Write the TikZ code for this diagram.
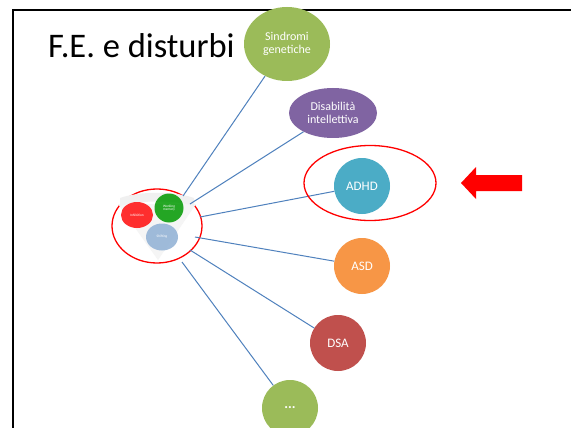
\documentclass[tikz,border=0pt]{standalone}
\usepackage{fontspec}
\setmainfont{Carlito}
\usetikzlibrary{arrows.meta,shapes.geometric}
\definecolor{cgreen}{HTML}{9BBB59}
\definecolor{cpurple}{HTML}{8064A2}
\definecolor{cteal}{HTML}{4BACC6}
\definecolor{corange}{HTML}{F79646}
\definecolor{cred}{HTML}{C0504D}
\definecolor{cline}{HTML}{4F81BD}
\begin{document}
\begin{tikzpicture}[x=1pt,y=-1pt,
  bub/.style={ellipse, draw=none, text=white, align=center, inner sep=0pt, font=\fontsize{12}{13}\selectfont},
  conn/.style={draw=cline, line width=1pt},
  redring/.style={draw=red, line width=1.3pt}]
\useasboundingbox (0,0) rectangle (571,428);
\clip (0,0) rectangle (571,428);
\fill[white] (0,0) rectangle (571,428);
\draw[line width=2pt] (13,10) rectangle (590,450);
\node[anchor=base west, inner sep=0pt, font=\fontsize{34.5}{35}\selectfont] (title) at (48,58) {F.E. e disturbi};
% bubbles
\node[bub, fill=cgreen, minimum width=86pt, minimum height=74pt] (sg) at (287,44) {Sindromi\\genetiche};
\node[bub, fill=cpurple, minimum width=88pt, minimum height=50pt] (di) at (333,113) {Disabilità\\intellettiva};
\node[bub, fill=cteal, minimum width=56pt, minimum height=56pt, font=\fontsize{13}{14}\selectfont] (adhd) at (362,186) {ADHD};
\node[bub, fill=corange, minimum width=56pt, minimum height=56pt, font=\fontsize{13}{14}\selectfont] (asd) at (362,266) {ASD};
\node[bub, fill=cred, minimum width=56pt, minimum height=56pt, font=\fontsize{13}{14}\selectfont] (dsa) at (338,343) {DSA};
\node[bub, fill=cgreen, minimum width=56pt, minimum height=56pt, font=\fontsize{14}{14}\selectfont\bfseries] (dots) at (290,408) {...};
% hub
\node[ellipse, redring, minimum width=90pt, minimum height=74pt, inner sep=0pt] (hub) at (157,226) {};
\begin{scope}
\fill[gray!8] (118,204) -- (196,204) -- (158,260) -- cycle;
\fill[gray!12] (120,198) .. controls (140,191) and (175,191) .. (194,198) -- (194,206) .. controls (175,200) and (140,200) .. (120,206) -- cycle;
\fill[red!90!white, opacity=0.9] (137,215) ellipse (16 and 13);
\fill[green!60!black, opacity=0.85] (169,208) circle (14.5);
\fill[cline!60!white, opacity=0.9] (162,237) ellipse (16 and 13.5);
\node[text=white, font=\fontsize{3.5}{3.5}\selectfont] (inh) at (137,215) {Inhibition};
\node[text=white, font=\fontsize{3.5}{3.5}\selectfont, align=center] (wm) at (169,208) {Working\\memory};
\node[text=white, font=\fontsize{3.5}{3.5}\selectfont] (sh) at (162,237) {Shifting};
\end{scope}
% connectors
\coordinate (h1) at (183,196);
\coordinate (h2) at (190,204);
\coordinate (h3) at (200,217);
\coordinate (h4) at (195,237);
\coordinate (h5) at (190,250);
\coordinate (h6) at (182,262);
\draw[conn] (h1) -- (sg);
\draw[conn] (h2) -- (di);
\draw[conn] (h3) -- (adhd);
\draw[conn] (h4) -- (asd);
\draw[conn] (h5) -- (dsa);
\draw[conn] (h6) -- (dots);
% red ring around ADHD
\node[ellipse, redring, minimum width=132pt, minimum height=75pt, inner sep=0pt] (ring) at (370,183) {};
% arrow
\fill[red] (461,183) -- (476,167) -- (476,175) -- (522,175) -- (522,191) -- (476,191) -- (476,199) -- cycle;
\end{tikzpicture}
\end{document}
